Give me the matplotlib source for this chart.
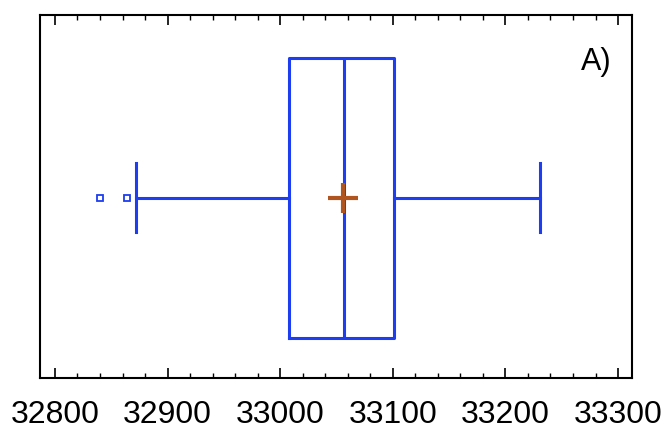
import matplotlib

matplotlib.use("Agg")
import matplotlib.pyplot as plt

# box-plot summary
q1, median, q3 = 33008, 33057, 33101
whislo, whishi = 32872, 33231
mean = 33056
fliers = [32840, 32864]
xticks = [32800, 32900, 33000, 33100, 33200, 33300]

plt.rcParams["font.family"] = ["Liberation Sans", "DejaVu Sans"]

fig = plt.figure(figsize=(6.7, 4.29), dpi=100)
ax = fig.add_axes([0.0597, 0.119, 0.8836, 0.846])

blue = "#1c3ef0"
stats = [dict(med=median, q1=q1, q3=q3, whislo=whislo, whishi=whishi,
              mean=mean, fliers=fliers)]
ax.bxp(stats, positions=[0.496], widths=0.771, vert=False, showmeans=True,
       capwidths=0.19,
       boxprops=dict(color=blue, lw=2.2),
       medianprops=dict(color=blue, lw=2.2),
       whiskerprops=dict(color=blue, lw=2.2),
       capprops=dict(color=blue, lw=2.2),
       meanprops=dict(marker="+", markersize=22, markeredgewidth=3,
                      markeredgecolor="#b0551f"),
       flierprops=dict(marker="s", markersize=4, markerfacecolor="white",
                       markeredgecolor=blue, markeredgewidth=1.3))

ax.set_xlim(32786.7, 33312.4)
ax.set_ylim(0, 1)
ax.set_xticks(xticks)
ax.set_xticklabels([str(t) for t in xticks], fontsize=23)
ax.set_xticks(range(32800, 33301, 20), minor=True)
ax.set_yticks([])
ax.tick_params(axis="x", which="major", direction="in", length=7, width=1.2,
               top=True, pad=16)
ax.tick_params(axis="x", which="minor", direction="in", length=3.5, width=1,
               top=True)
for s in ax.spines.values():
    s.set_linewidth(1.5)

ax.text(0.94, 0.87, "A)", transform=ax.transAxes, fontsize=22,
        ha="center", va="center")

fig.savefig("out.png", dpi=100)
